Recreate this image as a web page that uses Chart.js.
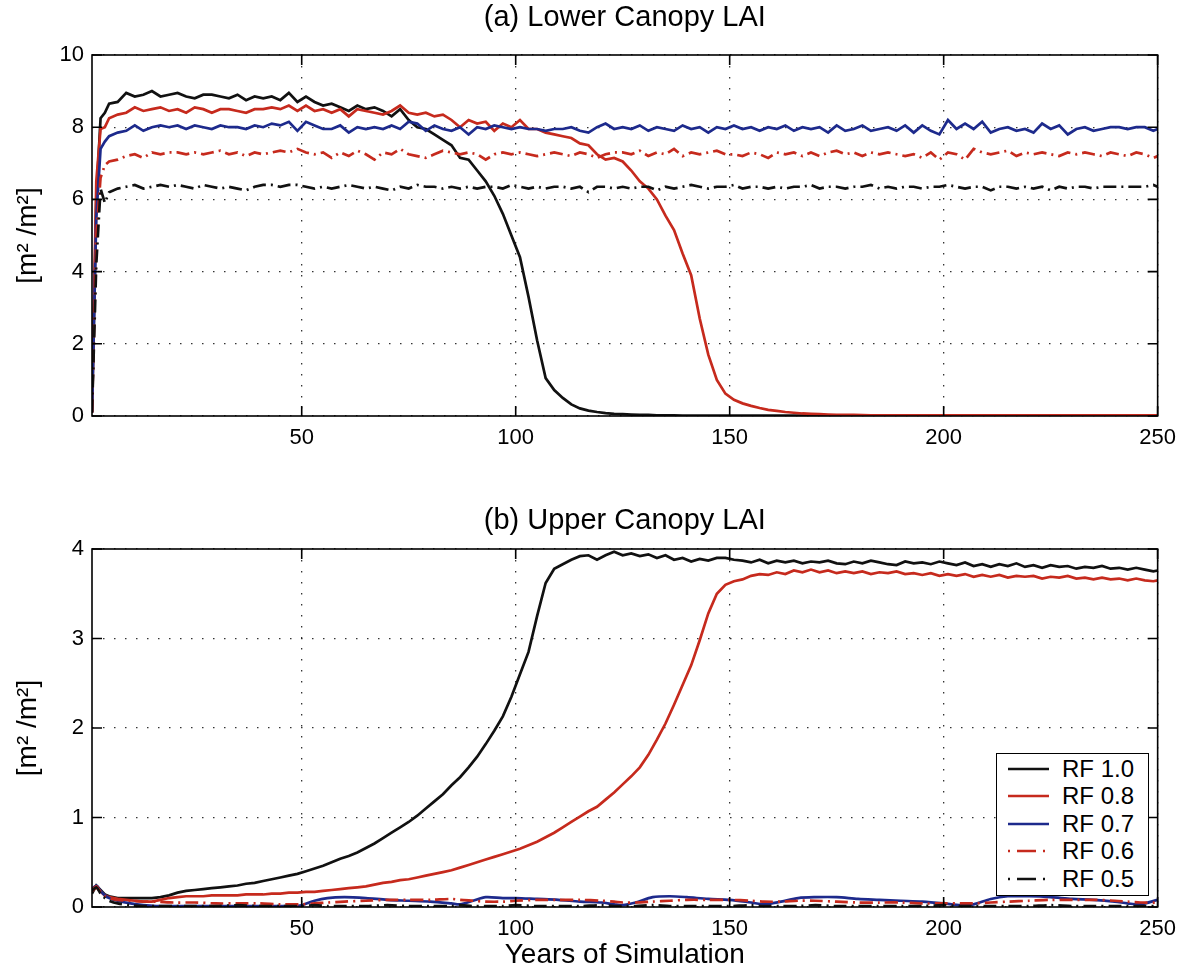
<!DOCTYPE html>
<html>
<head>
<meta charset="utf-8">
<title>Canopy LAI</title>
<script src="https://cdn.jsdelivr.net/npm/chart.js@4.4.1/dist/chart.umd.min.js"></script>
<style>
  html, body { margin: 0; padding: 0; background: #fff; }
  #wrap { position: relative; width: 1185px; height: 973px; overflow: hidden; font-family: "Liberation Sans", Arial, sans-serif; }
  #lower { position: absolute; left: 0; top: 0; }
  #upper { position: absolute; left: 0; top: 470px; }
  #legend { position: absolute; left: 996px; top: 753px; width: 153px; height: 143px; box-sizing: border-box; border: 1.5px solid #000; background: #fff; }
  #legend .row { position: absolute; left: 0; height: 28px; display: flex; align-items: center; }
  #legend svg { margin-left: 11px; }
  #legend span { margin-left: 13px; font-size: 24px; color: #000; }
</style>
</head>
<body>
<div id="wrap">
  <canvas id="lower" width="1185" height="470"></canvas>
  <canvas id="upper" width="1185" height="503"></canvas>
  <div id="legend"></div>
</div>
<script>
// simulation years (annual output, sampled)
const years = [1, 2, 3, 4, 5,
  7, 9, 11, 13, 15, 17, 19, 21, 23, 25,
  27, 29, 31, 33, 35, 37, 39, 41, 43, 45,
  47, 49, 51, 53, 55, 57, 59, 61, 63, 65,
  67, 69, 71, 73, 75, 77, 79, 81, 83, 85,
  87, 89, 91, 93, 95, 97, 99, 101, 103, 105,
  107, 109, 111, 113, 115, 117, 119, 121, 123, 125,
  127, 129, 131, 133, 135, 137, 139, 141, 143, 145,
  147, 149, 151, 153, 155, 157, 159, 161, 163, 165,
  167, 169, 171, 173, 175, 177, 179, 181, 183, 185,
  187, 189, 191, 193, 195, 197, 199, 201, 203, 205,
  207, 209, 211, 213, 215, 217, 219, 221, 223, 225,
  227, 229, 231, 233, 235, 237, 239, 241, 243, 245,
  247, 249, 250];

const yearsLow = [1, 2, 3, 4, 5, 7, 10, 13, 16, 20, 25, 30, 35, 40, 45, 48, 50, 53, 56, 60,
  65, 70, 75, 80, 85, 87, 90, 93, 97, 100, 105, 110, 115, 120, 123, 125, 128, 132, 136, 140,
  145, 150, 155, 158, 162, 166, 170, 175, 180, 185, 190, 195, 200, 204, 207, 211, 215, 220, 225, 230,
  235, 240, 243, 246, 250];

// (a) lower canopy LAI
const lowerRF10 = [0.1, 6.0, 8.25, 8.4, 8.65,
  8.7, 8.95, 8.85, 8.9, 9.0, 8.85, 8.9, 8.95, 8.85, 8.8,
  8.9, 8.9, 8.85, 8.8, 8.9, 8.75, 8.85, 8.8, 8.85, 8.75,
  8.95, 8.7, 8.85, 8.7, 8.6, 8.65, 8.55, 8.45, 8.6, 8.5,
  8.55, 8.45, 8.3, 8.5, 8.2, 8.0, 7.95, 7.8, 7.65, 7.5,
  7.15, 7.1, 6.8, 6.5, 6.1, 5.6, 5.0, 4.4, 3.3, 2.1,
  1.05, 0.72, 0.5, 0.32, 0.21, 0.15, 0.11, 0.08, 0.06, 0.05,
  0.04, 0.03, 0.03, 0.02, 0.02, 0.02, 0.01, 0.01, 0.01, 0.01,
  0.01, 0.01, 0.01, 0.01, 0.01, 0.01, 0.01, 0.01, 0.01, 0.01,
  0.01, 0.01, 0.01, 0.01, 0.01, 0.01, 0.01, 0.01, 0.01, 0.01,
  0.01, 0.01, 0.01, 0.01, 0.01, 0.01, 0.01, 0.01, 0.01, 0.01,
  0.01, 0.01, 0.01, 0.01, 0.01, 0.01, 0.01, 0.01, 0.01, 0.01,
  0.01, 0.01, 0.01, 0.01, 0.01, 0.01, 0.01, 0.01, 0.01, 0.01,
  0.01, 0.01, 0.01];

const lowerRF08 = [0.1, 6.5, 7.95, 8.0, 8.25,
  8.35, 8.4, 8.55, 8.45, 8.5, 8.55, 8.45, 8.5, 8.4, 8.55,
  8.5, 8.4, 8.5, 8.5, 8.45, 8.4, 8.5, 8.5, 8.55, 8.5,
  8.6, 8.45, 8.6, 8.45, 8.5, 8.4, 8.5, 8.3, 8.5, 8.45,
  8.4, 8.35, 8.45, 8.6, 8.4, 8.35, 8.4, 8.3, 8.35, 8.2,
  8.0, 8.2, 8.1, 8.15, 7.9, 8.1, 8.0, 8.2, 7.95, 7.95,
  7.85, 7.8, 7.75, 7.7, 7.55, 7.5, 7.25, 7.1, 7.15, 7.05,
  6.8, 6.5, 6.3, 6.0, 5.55, 5.15, 4.5, 3.9, 2.7, 1.7,
  1.0, 0.62, 0.45, 0.35, 0.28, 0.22, 0.17, 0.14, 0.11, 0.09,
  0.07, 0.06, 0.05, 0.04, 0.035, 0.03, 0.03, 0.025, 0.02, 0.02,
  0.02, 0.02, 0.02, 0.02, 0.02, 0.02, 0.02, 0.02, 0.02, 0.02,
  0.02, 0.02, 0.02, 0.02, 0.02, 0.02, 0.02, 0.02, 0.02, 0.02,
  0.02, 0.02, 0.02, 0.02, 0.02, 0.02, 0.02, 0.02, 0.02, 0.02,
  0.02, 0.02, 0.02];

const lowerRF07 = [0.1, 5.5, 7.4, 7.6, 7.75,
  7.85, 7.9, 8.05, 7.9, 8.0, 8.05, 8.0, 8.05, 7.95, 8.05,
  8.0, 7.95, 8.05, 8.0, 8.0, 7.95, 8.05, 8.0, 8.1, 8.05,
  8.15, 7.9, 8.15, 8.05, 7.95, 7.95, 8.05, 7.85, 8.0, 7.95,
  8.0, 7.95, 8.05, 7.95, 8.15, 8.1, 7.9, 8.05, 7.95, 7.9,
  8.0, 7.8, 8.0, 7.95, 8.05, 8.0, 7.95, 8.0, 7.95, 7.95,
  7.9, 7.95, 7.95, 8.0, 7.9, 7.85, 8.0, 8.1, 7.95, 8.0,
  7.95, 8.05, 7.9, 8.0, 7.95, 7.9, 8.05, 7.95, 8.0, 7.85,
  8.0, 7.95, 8.05, 7.95, 8.0, 7.9, 8.0, 7.95, 8.05, 7.9,
  8.0, 7.95, 8.0, 7.85, 8.05, 7.9, 7.95, 8.05, 7.9, 7.95,
  8.0, 7.9, 8.05, 7.85, 8.05, 7.9, 7.8, 8.2, 7.95, 8.1,
  7.95, 8.15, 7.85, 7.95, 8.0, 7.9, 7.95, 7.85, 8.1, 7.95,
  8.05, 7.8, 7.95, 8.0, 7.9, 7.95, 8.0, 8.0, 7.95, 8.0,
  8.0, 7.9, 7.95];

const lowerRF06 = [0.1, 5.0, 6.6, 6.95, 7.05,
  7.1, 7.2, 7.25, 7.15, 7.3, 7.25, 7.3, 7.3, 7.25, 7.3,
  7.25, 7.3, 7.35, 7.25, 7.3, 7.2, 7.3, 7.25, 7.3, 7.35,
  7.3, 7.4, 7.3, 7.25, 7.3, 7.15, 7.3, 7.2, 7.35, 7.25,
  7.1, 7.3, 7.25, 7.4, 7.25, 7.2, 7.15, 7.25, 7.35, 7.3,
  7.25, 7.3, 7.25, 7.1, 7.25, 7.3, 7.25, 7.3, 7.25, 7.2,
  7.25, 7.3, 7.25, 7.2, 7.3, 7.25, 7.15, 7.25, 7.3, 7.3,
  7.25, 7.35, 7.2, 7.3, 7.25, 7.4, 7.2, 7.3, 7.25, 7.3,
  7.35, 7.25, 7.25, 7.2, 7.3, 7.25, 7.15, 7.3, 7.25, 7.3,
  7.2, 7.3, 7.2, 7.3, 7.35, 7.25, 7.3, 7.2, 7.3, 7.25,
  7.3, 7.25, 7.2, 7.25, 7.15, 7.3, 7.1, 7.3, 7.25, 7.1,
  7.4, 7.3, 7.25, 7.3, 7.35, 7.2, 7.3, 7.25, 7.3, 7.25,
  7.2, 7.3, 7.25, 7.3, 7.25, 7.2, 7.3, 7.25, 7.2, 7.3,
  7.25, 7.15, 7.2];

const lowerRF05 = [0.1, 4.2, 6.3, 5.9, 6.2,
  6.3, 6.35, 6.4, 6.3, 6.35, 6.4, 6.35, 6.4, 6.35, 6.3,
  6.4, 6.35, 6.3, 6.35, 6.3, 6.25, 6.35, 6.4, 6.4, 6.35,
  6.4, 6.4, 6.35, 6.3, 6.35, 6.3, 6.35, 6.4, 6.35, 6.3,
  6.35, 6.3, 6.25, 6.35, 6.3, 6.4, 6.35, 6.35, 6.3, 6.35,
  6.3, 6.35, 6.3, 6.35, 6.35, 6.3, 6.4, 6.35, 6.3, 6.35,
  6.3, 6.35, 6.35, 6.3, 6.35, 6.2, 6.35, 6.35, 6.3, 6.35,
  6.3, 6.35, 6.35, 6.25, 6.35, 6.3, 6.35, 6.4, 6.35, 6.3,
  6.35, 6.35, 6.4, 6.3, 6.35, 6.35, 6.3, 6.35, 6.3, 6.35,
  6.35, 6.4, 6.3, 6.35, 6.35, 6.3, 6.35, 6.35, 6.4, 6.3,
  6.35, 6.3, 6.35, 6.35, 6.3, 6.35, 6.35, 6.4, 6.35, 6.3,
  6.35, 6.35, 6.25, 6.35, 6.35, 6.3, 6.35, 6.3, 6.35, 6.25,
  6.35, 6.3, 6.35, 6.35, 6.3, 6.35, 6.35, 6.35, 6.35, 6.35,
  6.35, 6.4, 6.35];

// (b) upper canopy LAI
const upperRF10 = [0.15, 0.24, 0.19, 0.14, 0.12,
  0.1, 0.1, 0.1, 0.1, 0.1, 0.11, 0.13, 0.16, 0.18, 0.19,
  0.2, 0.21, 0.22, 0.23, 0.24, 0.26, 0.27, 0.29, 0.31, 0.33,
  0.35, 0.37, 0.4, 0.43, 0.46, 0.5, 0.54, 0.57, 0.61, 0.66,
  0.71, 0.77, 0.83, 0.89, 0.95, 1.02, 1.1, 1.18, 1.26, 1.36,
  1.45, 1.56, 1.68, 1.82, 1.97, 2.13, 2.35, 2.6, 2.85, 3.25,
  3.62, 3.78, 3.83, 3.88, 3.92, 3.93, 3.88, 3.93, 3.97, 3.93,
  3.95, 3.92, 3.94, 3.9, 3.93, 3.88, 3.9, 3.86, 3.89, 3.87,
  3.9, 3.9, 3.88, 3.87, 3.85, 3.88, 3.84, 3.87, 3.85, 3.87,
  3.84, 3.86, 3.85, 3.87, 3.84, 3.83, 3.86, 3.84, 3.87, 3.85,
  3.83, 3.82, 3.86, 3.84, 3.85, 3.83, 3.86, 3.84, 3.82, 3.85,
  3.81, 3.83, 3.8, 3.83, 3.81, 3.84, 3.8, 3.82, 3.79, 3.82,
  3.8, 3.81, 3.78, 3.8, 3.79, 3.81, 3.78, 3.79, 3.77, 3.79,
  3.77, 3.75, 3.76];

const upperRF08 = [0.18, 0.22, 0.17, 0.13, 0.11,
  0.09, 0.08, 0.07, 0.06, 0.06, 0.08, 0.1, 0.11, 0.12, 0.12,
  0.12, 0.13, 0.13, 0.13, 0.13, 0.14, 0.14, 0.14, 0.15, 0.15,
  0.16, 0.16, 0.17, 0.17, 0.18, 0.19, 0.2, 0.21, 0.22, 0.23,
  0.25, 0.27, 0.28, 0.3, 0.31, 0.33, 0.35, 0.37, 0.39, 0.41,
  0.44, 0.47, 0.5, 0.53, 0.56, 0.59, 0.62, 0.65, 0.69, 0.73,
  0.78, 0.83, 0.89, 0.95, 1.01, 1.07, 1.12, 1.2, 1.28, 1.37,
  1.46, 1.56, 1.7, 1.87, 2.05, 2.26, 2.48, 2.7, 2.98, 3.28,
  3.5, 3.6, 3.64, 3.66, 3.7, 3.72, 3.71, 3.74, 3.72, 3.76,
  3.74, 3.77, 3.74, 3.76, 3.73, 3.75, 3.73, 3.75, 3.72, 3.74,
  3.73, 3.75, 3.72, 3.73, 3.71, 3.73, 3.7, 3.72, 3.7, 3.72,
  3.69, 3.71, 3.69, 3.71, 3.68, 3.7, 3.69, 3.7, 3.67, 3.69,
  3.68, 3.7, 3.67, 3.68, 3.66, 3.68, 3.66, 3.67, 3.65, 3.67,
  3.65, 3.64, 3.65];

const upperRF07 = [0.2, 0.24, 0.18, 0.13, 0.1,
  0.07, 0.04, 0.02, 0.01, 0.01, 0.01, 0.01, 0.01, 0.01, 0.01,
  0.01, 0.02, 0.07, 0.1, 0.11, 0.1, 0.08, 0.07, 0.06, 0.04,
  0.03, 0.07, 0.11, 0.1, 0.1, 0.09, 0.08, 0.06, 0.05, 0.03,
  0.02, 0.05, 0.11, 0.12, 0.11, 0.09, 0.08, 0.05, 0.03, 0.06,
  0.1, 0.11, 0.11, 0.09, 0.08, 0.07, 0.06, 0.04, 0.02, 0.03,
  0.09, 0.12, 0.12, 0.11, 0.09, 0.08, 0.06, 0.04, 0.03, 0.08];

const upperRF06 = [0.19, 0.23, 0.17, 0.12, 0.1,
  0.08, 0.07, 0.06, 0.06, 0.05, 0.05, 0.04, 0.04, 0.04, 0.03,
  0.03, 0.03, 0.04, 0.05, 0.06, 0.07, 0.08, 0.08, 0.08, 0.09,
  0.08, 0.07, 0.06, 0.06, 0.07, 0.08, 0.08, 0.08, 0.07, 0.06,
  0.05, 0.05, 0.06, 0.07, 0.08, 0.08, 0.08, 0.07, 0.06, 0.06,
  0.07, 0.07, 0.06, 0.05, 0.05, 0.05, 0.04, 0.04, 0.04, 0.04,
  0.05, 0.06, 0.07, 0.08, 0.08, 0.08, 0.07, 0.06, 0.05, 0.05];

const upperRF05 = [0.18, 0.22, 0.15, 0.1, 0.07,
  0.04, 0.02, 0.01, 0.01, 0.01, 0.01, 0.01, 0.02, 0.01, 0.01,
  0.01, 0.01, 0.02, 0.01, 0.01, 0.01, 0.02, 0.01, 0.01, 0.01,
  0.02, 0.01, 0.01, 0.01, 0.02, 0.01, 0.01, 0.01, 0.02, 0.01,
  0.01, 0.01, 0.02, 0.01, 0.01, 0.01, 0.01, 0.02, 0.01, 0.01,
  0.01, 0.02, 0.01, 0.01, 0.01, 0.01, 0.01, 0.02, 0.01, 0.01,
  0.01, 0.01, 0.01, 0.02, 0.01, 0.01, 0.01, 0.01, 0.01, 0.01];

const xTicks = [50, 100, 150, 200, 250];

const FONT = '"Liberation Sans", Arial, sans-serif';
const BLACK = '#111111', RED = '#c62a1d', BLUE = '#1d2a8c';
const DASHDOT = [13, 5, 2, 5];

const series = [
  { label: 'RF 1.0', color: BLACK, dash: [] },
  { label: 'RF 0.8', color: RED, dash: [] },
  { label: 'RF 0.7', color: BLUE, dash: [] },
  { label: 'RF 0.6', color: RED, dash: DASHDOT },
  { label: 'RF 0.5', color: BLACK, dash: DASHDOT }
];

function points(xs, ys) {
  return xs.map((x, i) => ({ x: x, y: ys[i] }));
}

function datasets(lists) {
  return series.map((s, i) => ({
    label: s.label,
    data: points(lists[i][0], lists[i][1]),
    borderColor: s.color,
    borderDash: s.dash,
    borderWidth: 2.7,
    pointRadius: 0,
    fill: false,
    tension: lists[i][2] || 0,
    order: series.length - i
  }));
}

// box around the plot plus inward tick marks on all four sides
const frame = {
  id: 'frame',
  afterDatasetsDraw(chart) {
    const { ctx, chartArea: a, scales: { x, y } } = chart;
    ctx.save();
    ctx.strokeStyle = '#000';
    ctx.lineWidth = 1.6;
    ctx.setLineDash([]);
    ctx.strokeRect(a.left, a.top, a.right - a.left, a.bottom - a.top);
    ctx.beginPath();
    x.ticks.forEach(t => {
      const px = x.getPixelForValue(t.value);
      ctx.moveTo(px, a.bottom); ctx.lineTo(px, a.bottom - 10);
      ctx.moveTo(px, a.top); ctx.lineTo(px, a.top + 10);
    });
    y.ticks.forEach(t => {
      const py = y.getPixelForValue(t.value);
      ctx.moveTo(a.left, py); ctx.lineTo(a.left + 10, py);
      ctx.moveTo(a.right, py); ctx.lineTo(a.right - 10, py);
    });
    ctx.stroke();
    ctx.restore();
  }
};

// title centred over the plot box rather than the canvas
const panelTitle = {
  id: 'panelTitle',
  afterDraw(chart, args, opts) {
    const { ctx, chartArea: a } = chart;
    ctx.save();
    ctx.font = opts.size + 'px ' + FONT;
    ctx.fillStyle = '#000';
    ctx.textAlign = 'center';
    ctx.textBaseline = 'middle';
    ctx.fillText(opts.text, (a.left + a.right) / 2, opts.y);
    ctx.restore();
  }
};

function makePanel(id, cfg) {
  const canvas = document.getElementById(id);
  return new Chart(canvas, {
    type: 'line',
    data: { datasets: datasets(cfg.lists) },
    options: {
      responsive: false,
      animation: false,
      events: [],
      layout: { padding: { left: 0, right: 23, top: cfg.top, bottom: 0 } },
      plugins: {
        legend: { display: false },
        tooltip: { enabled: false },
        panelTitle: { text: cfg.title, y: cfg.titleY, size: 29 }
      },
      scales: {
        x: {
          type: 'linear',
          min: 1,
          max: 250,
          afterBuildTicks: s => { s.ticks = xTicks.map(v => ({ value: v })); },
          afterFit: s => { s.height = cfg.xHeight; },
          grid: { color: 'rgba(0,0,0,0.8)', lineWidth: 1.3, drawTicks: false },
          border: { display: false, dash: [1.5, 9.5] },
          ticks: { padding: 9, maxRotation: 0, color: '#000', font: { family: FONT, size: 22 } },
          title: {
            display: !!cfg.xTitle,
            text: cfg.xTitle || '',
            color: '#000',
            font: { family: FONT, size: 28 },
            padding: { top: 0, bottom: 1 }
          }
        },
        y: {
          min: 0,
          max: cfg.yMax,
          afterFit: s => { s.width = 92; },
          grid: { color: 'rgba(0,0,0,0.8)', lineWidth: 1.3, drawTicks: false },
          border: { display: false, dash: [1.5, 9.5] },
          ticks: { stepSize: cfg.yStep, padding: 8, color: '#000', font: { family: FONT, size: 22 } },
          title: {
            display: true,
            text: '[m\u00B2 /m\u00B2]',
            color: '#000',
            font: { family: FONT, size: 28 },
            padding: { top: 11, bottom: 0 }
          }
        }
      }
    },
    plugins: [frame, panelTitle]
  });
}

makePanel('lower', {
  title: '(a) Lower Canopy LAI',
  titleY: 18,
  top: 55,
  xHeight: 470 - 416,
  yMax: 10,
  yStep: 2,
  lists: [
    [years, lowerRF10], [years, lowerRF08], [years, lowerRF07],
    [years, lowerRF06], [years, lowerRF05]
  ]
});

makePanel('upper', {
  title: '(b) Upper Canopy LAI',
  titleY: 51,
  top: 79,
  xHeight: 503 - 437,
  xTitle: 'Years of Simulation',
  yMax: 4,
  yStep: 1,
  lists: [
    [years, upperRF10], [years, upperRF08], [yearsLow, upperRF07, 0.3],
    [yearsLow, upperRF06, 0.3], [yearsLow, upperRF05, 0.3]
  ]
});

// legend box in the lower right of panel (b)
const legend = document.getElementById('legend');
series.forEach((s, i) => {
  const row = document.createElement('div');
  row.className = 'row';
  row.style.top = (1 + i * 27.4) + 'px';
  const dash = s.dash.length ? 'stroke-dasharray="2 7 19 7 2 20"' : '';
  row.innerHTML = '<svg width="41" height="6"><line x1="0" y1="3" x2="41" y2="3" stroke="' + s.color +
    '" stroke-width="2.7" ' + dash + '/></svg><span>' + s.label + '</span>';
  legend.appendChild(row);
});
</script>
</body>
</html>
